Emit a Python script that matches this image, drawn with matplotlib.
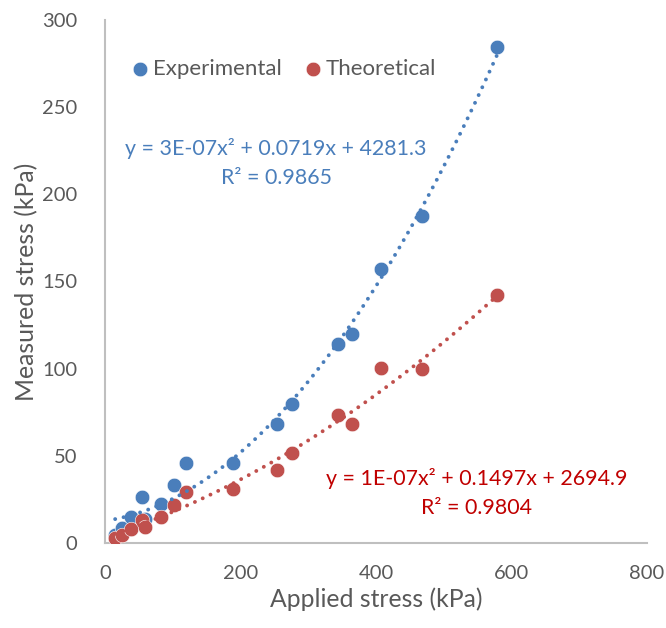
#!/usr/bin/env python
# -*- coding: utf-8 -*-

import matplotlib
matplotlib.use('Agg')
import matplotlib.pyplot as plt
import numpy as np

# Applied stress (kPa), shared by both series
applied = [15, 24.5, 38, 55, 59, 82, 102, 120, 189, 254, 276, 344, 365, 408, 468, 579]

# Measured stress (kPa)
exp_y = [4.6, 8.4, 15.1, 26.6, 13.6, 22.2, 33.3, 45.7, 46, 68.3, 79.7, 114, 119.7, 157.2, 187.6, 284.6]
theo_y = [2.7, 4.6, 8, 13.2, 9.4, 15.1, 21.6, 29.4, 31, 41.9, 51.5, 73.4, 68.1, 100.2, 99.6, 142.3]

exp_label = 'Experimental'
theo_label = 'Theoretical'
exp_eq = ['y = 3E-07x² + 0.0719x + 4281.3', 'R² = 0.9865']
theo_eq = ['y = 1E-07x² + 0.1497x + 2694.9', 'R² = 0.9804']

BLUE = '#4A7EBB'
RED = '#C0504D'
RED_TEXT = '#C00000'
GREY = '#595959'

plt.rcParams['font.family'] = ['Lato', 'DejaVu Sans']

fig = plt.figure(figsize=(6.66, 6.28), dpi=100)
ax = fig.add_axes([105 / 666, 85 / 628, 542 / 666, 523 / 628])

ax.scatter(applied, exp_y, s=110, color=BLUE, edgecolor='white', linewidth=0.4,
           zorder=3, label=exp_label)
ax.scatter(applied, theo_y, s=110, color=RED, edgecolor='white', linewidth=0.4,
           zorder=4, label=theo_label)

#
# Quadratic trendlines, dotted like Excel
#

for ys, color in [(exp_y, BLUE), (theo_y, RED)]:
    coeffs = np.polyfit(applied, ys, 2)
    xx = np.linspace(min(applied), max(applied), 200)
    ax.plot(xx, np.polyval(coeffs, xx), color=color, linewidth=2.8,
            linestyle=(0, (0.01, 2.2)), dash_capstyle='round', zorder=5)

ax.set_xlim(0, 800)
ax.set_ylim(0, 300)
ax.set_xticks(range(0, 801, 200))
ax.set_yticks(range(0, 301, 50))

for side in ['top', 'right']:
    ax.spines[side].set_visible(False)
for side in ['left', 'bottom']:
    ax.spines[side].set_color('#BFBFBF')
    ax.spines[side].set_linewidth(1.5)

ax.tick_params(length=0, labelsize=14.5, labelcolor=GREY)
ax.tick_params(axis='x', pad=16)
ax.tick_params(axis='y', pad=20)

ax.set_xlabel('Applied stress (kPa)', fontsize=17.8, color=GREY, labelpad=4)
ax.set_ylabel('Measured stress (kPa)', fontsize=17.8, color=GREY, labelpad=3)

ax.legend(loc='center left', bbox_to_anchor=(0.046, 0.906), borderaxespad=0,
          borderpad=0, ncol=2, frameon=False, fontsize=16, labelcolor=GREY,
          handlelength=0.9, handletextpad=0.14, columnspacing=0.95)

ax.text(0.3155, 0.755, exp_eq[0], transform=ax.transAxes, ha='center', va='center',
        fontsize=15.4, color=BLUE)
ax.text(0.3155, 0.698, exp_eq[1], transform=ax.transAxes, ha='center', va='center',
        fontsize=15.4, color=BLUE)
ax.text(0.686, 0.124, theo_eq[0], transform=ax.transAxes, ha='center', va='center',
        fontsize=15.4, color=RED_TEXT)
ax.text(0.686, 0.067, theo_eq[1], transform=ax.transAxes, ha='center', va='center',
        fontsize=15.4, color=RED_TEXT)

fig.savefig('out.png', dpi=100)
